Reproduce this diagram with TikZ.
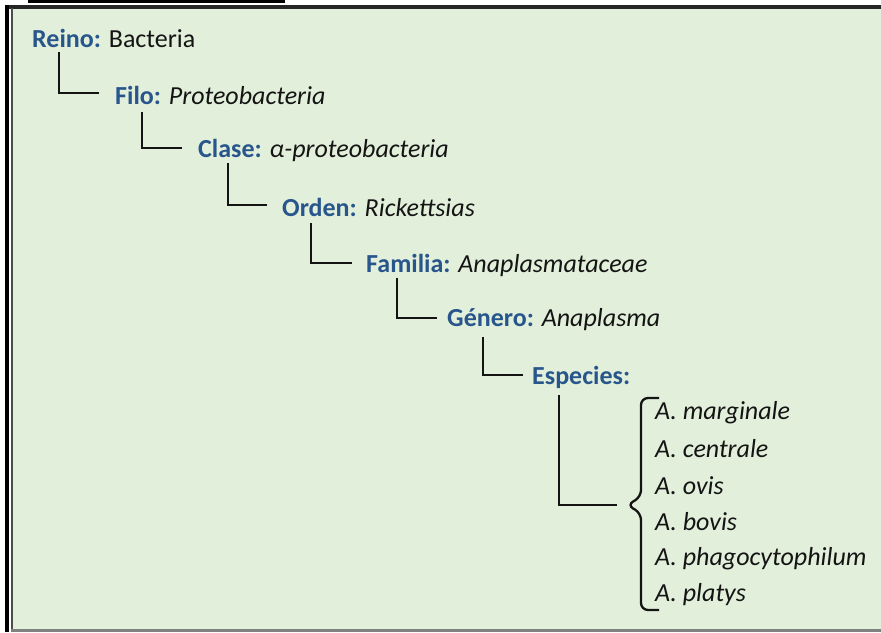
\documentclass[tikz,border=0pt]{standalone}
\usepackage{fontspec}
\setmainfont{Carlito}
\definecolor{rankblue}{RGB}{40,86,140}
\definecolor{boxgreen}{RGB}{226,239,218}
\definecolor{inkblack}{RGB}{20,20,20}

\begin{document}
\begin{tikzpicture}[x=1pt, y=-1pt,
    tax/.style={anchor=west, inner sep=0pt, text=inkblack, font=\fontsize{26}{31}\selectfont},
    species/.style={tax, font=\fontsize{26}{31}\selectfont\itshape},
    link/.style={line width=2.8pt, inkblack}]
    \useasboundingbox (0,0) rectangle (881,632);

    % frame
    \fill[boxgreen] (11,8) rectangle (881,629);
    \fill[black] (28,0) rectangle (285,2.5);
    \draw[line width=4pt, black!85] (5,6.5) -- (881,6.5);
    \draw[line width=4pt, black] (7,5) -- (7,632);
    \draw[line width=1.5pt, black!70] (12,8) -- (12,632);
    \draw[line width=2.5pt, gray] (11,630.5) -- (881,630.5);

    % ranks
    \node[tax] (reino) at (32,38) {\textcolor{rankblue}{\bfseries Reino:} Bacteria};
    \node[tax] (filo) at (115,95) {\textcolor{rankblue}{\bfseries Filo:} \textit{Proteobacteria}};
    \node[tax] (clase) at (198,150) {\textcolor{rankblue}{\bfseries Clase:} \textit{α-proteobacteria}};
    \node[tax] (orden) at (282,207) {\textcolor{rankblue}{\bfseries Orden:} \textit{Rickettsias}};
    \node[tax] (familia) at (366,265) {\textcolor{rankblue}{\bfseries Familia:} \textit{Anaplasmataceae}};
    \node[tax] (genero) at (447,320) {\textcolor{rankblue}{\bfseries Género:} \textit{Anaplasma}};
    \node[tax] (especies) at (532,377) {\textcolor{rankblue}{\bfseries Especies:}};

    \draw[link] ([shift={(27,14)}]reino.west) |- ([xshift=-16pt, yshift=2pt]filo.west);
    \draw[link] ([shift={(27,17)}]filo.west) |- ([xshift=-16pt, yshift=2pt]clase.west);
    \draw[link] ([shift={(30,13)}]clase.west) |- ([xshift=-15pt, yshift=2pt]orden.west);
    \draw[link] ([shift={(29,16)}]orden.west) |- ([xshift=-14pt, yshift=2pt]familia.west);
    \draw[link] ([shift={(31,13)}]familia.west) |- ([xshift=-10pt, yshift=2pt]genero.west);
    \draw[link] ([shift={(36,17)}]genero.west) |- ([xshift=-9pt, yshift=2pt]especies.west);

    % species
    \foreach \sp [count=\i] in {marginale, centrale, ovis, bovis, phagocytophilum, platys}
        \node[species] (sp\i) at (655,376+36.5*\i) {A. \sp};

    \coordinate (tip) at (627,505);
    \draw[link, line width=2.3pt, rounded corners=7pt] (659,398) -- (641,398) -- (641,497)
        -- (tip) -- (641,513) -- (641,610) -- (659,610);
    \draw[link] ([shift={(27,18)}]especies.west) |- ([xshift=-10pt]tip);
\end{tikzpicture}
\end{document}
